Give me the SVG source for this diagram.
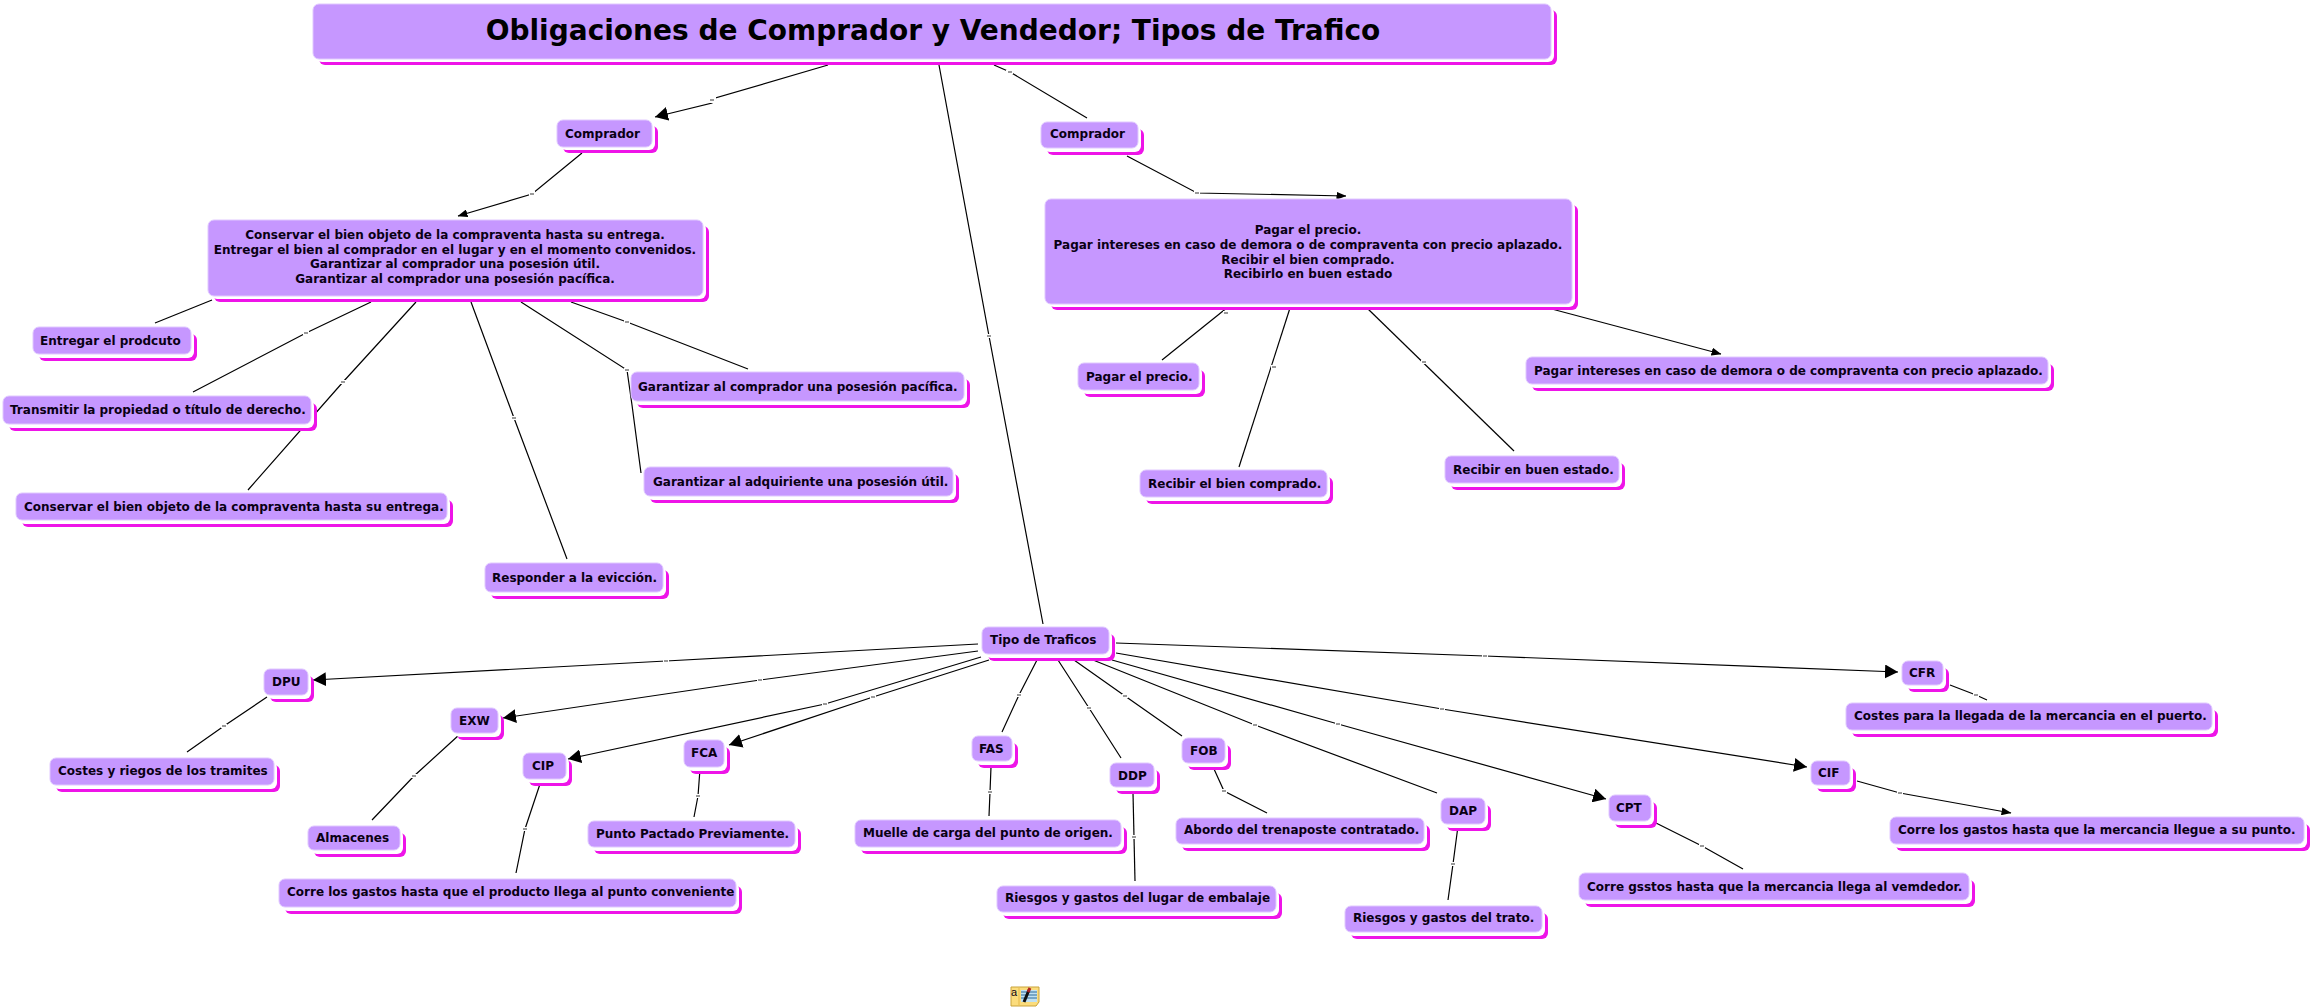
<svg xmlns="http://www.w3.org/2000/svg" width="2312" height="1008" viewBox="0 0 2312 1008">
<style>
text{font-family:"DejaVu Sans","Liberation Sans",sans-serif;font-weight:bold;font-size:12px;fill:#0a0014}
.m{text-anchor:middle}
.t{font-size:28px;fill:#000}
.s{fill:#ee14e8}
.w{fill:#fff}
.b{fill:#c697ff;stroke:#e0c8ff;stroke-width:1}
polyline{fill:none;stroke:#000;stroke-width:1.2}
.a{marker-end:url(#big)}
.c{marker-end:url(#small)}
.d{fill:#999}
</style>
<defs>
<marker id="big" markerUnits="userSpaceOnUse" markerWidth="14" markerHeight="14" refX="13" refY="7" orient="auto"><path d="M0,0L13,7L0,14z" fill="#000"/></marker>
<marker id="small" markerUnits="userSpaceOnUse" markerWidth="10" markerHeight="8" refX="9.5" refY="4" orient="auto"><path d="M0,0L10,4L0,8z" fill="#000"/></marker>
</defs>
<rect width="2312" height="1008" fill="#fff"/>
<g id="connectors">
<polyline class="a" points="828,65 712,99 712,103 655,117"/>
<polyline class="c" points="582,153 532,194 458,216"/>
<polyline points="994,65 1010,72 1087,118"/>
<polyline points="939,65 989,336 1043,624"/>
<polyline class="c" points="1127,156 1197,193 1346,196"/>
<polyline points="1228,307 1162,360"/>
<polyline points="1290,308 1239,467"/>
<polyline points="1367,308 1514,451"/>
<polyline class="c" points="1548,308 1721,354"/>
<polyline points="212,300 155,323"/>
<polyline points="371,302 306,333 193,392"/>
<polyline points="416,302 343,382 248,490"/>
<polyline points="471,302 514,418 567,559"/>
<polyline points="521,302 627,370 632,405 641,473"/>
<polyline points="571,302 627,322 748,369"/>
<polyline points="1037,660 1019,695 1002,732"/>
<polyline points="991,767 990,792 989,816"/>
<polyline points="1058,660 1089,708 1121,758"/>
<polyline points="1133,793 1134,837 1135,881"/>
<polyline points="1074,660 1125,696 1182,736"/>
<polyline points="1214,769 1224,791 1267,813"/>
<polyline points="1093,660 1255,725 1437,793"/>
<polyline points="1458,826 1453,864 1448,900"/>
<polyline class="a" points="1112,660 1338,724 1606,799"/>
<polyline points="1654,822 1702,846 1743,869"/>
<polyline class="a" points="1116,653 1442,709 1807,767"/>
<polyline class="c" points="1857,781 1900,793 2011,813"/>
<polyline class="a" points="1116,643 1485,656 1898,672"/>
<polyline points="1950,685 1976,695 1987,700"/>
<polyline class="a" points="978,644 666,661 313,680"/>
<polyline class="a" points="978,651 760,680 503,718"/>
<polyline class="a" points="981,657 825,704 568,759"/>
<polyline class="a" points="989,660 873,697 729,745"/>
<polyline points="267,697 224,726 187,752"/>
<polyline points="459,735 414,776 372,820"/>
<polyline points="541,781 525,829 516,873"/>
<polyline points="700,769 698,796 694,817"/>
<g fill="#fff">
<rect x="708" y="97" width="8" height="6"/><rect x="529" y="191" width="6" height="5"/><rect x="1006" y="70" width="7" height="4"/><rect x="986" y="334" width="6" height="4"/><rect x="1194" y="190" width="6" height="5"/><rect x="1223" y="311" width="6" height="4"/><rect x="1271" y="365" width="6" height="4"/><rect x="1421" y="360" width="6" height="4"/><rect x="303" y="331" width="6" height="4"/><rect x="340" y="380" width="6" height="4"/><rect x="511" y="416" width="6" height="4"/><rect x="624" y="368" width="6" height="4"/><rect x="624" y="320" width="6" height="4"/><rect x="1016" y="693" width="6" height="4"/><rect x="987" y="790" width="6" height="4"/><rect x="1086" y="706" width="6" height="4"/><rect x="1131" y="835" width="6" height="4"/><rect x="1122" y="694" width="6" height="4"/><rect x="1221" y="789" width="6" height="4"/><rect x="1252" y="723" width="6" height="4"/><rect x="1450" y="862" width="6" height="4"/><rect x="1335" y="722" width="6" height="4"/><rect x="1699" y="844" width="6" height="4"/><rect x="1439" y="707" width="6" height="4"/><rect x="1897" y="791" width="6" height="4"/><rect x="1482" y="654" width="6" height="4"/><rect x="1973" y="693" width="6" height="4"/><rect x="663" y="659" width="6" height="4"/><rect x="757" y="678" width="6" height="4"/><rect x="822" y="702" width="6" height="4"/><rect x="870" y="695" width="6" height="4"/><rect x="221" y="724" width="6" height="4"/><rect x="411" y="774" width="6" height="4"/><rect x="522" y="827" width="6" height="4"/><rect x="695" y="794" width="6" height="4"/>
</g>
<g class="d">
<rect x="710" y="99" width="4" height="2"/><rect x="530" y="193" width="4" height="2"/><rect x="1008" y="71" width="4" height="2"/><rect x="987" y="335" width="4" height="2"/><rect x="1195" y="192" width="4" height="2"/><rect x="1224" y="312" width="4" height="2"/><rect x="1272" y="366" width="4" height="2"/><rect x="1422" y="361" width="4" height="2"/><rect x="304" y="332" width="4" height="2"/><rect x="341" y="381" width="4" height="2"/><rect x="512" y="417" width="4" height="2"/><rect x="625" y="369" width="4" height="2"/><rect x="625" y="321" width="4" height="2"/><rect x="1017" y="694" width="4" height="2"/><rect x="988" y="791" width="4" height="2"/><rect x="1087" y="707" width="4" height="2"/><rect x="1132" y="836" width="4" height="2"/><rect x="1123" y="695" width="4" height="2"/><rect x="1222" y="790" width="4" height="2"/><rect x="1253" y="724" width="4" height="2"/><rect x="1451" y="863" width="4" height="2"/><rect x="1336" y="723" width="4" height="2"/><rect x="1700" y="845" width="4" height="2"/><rect x="1440" y="708" width="4" height="2"/><rect x="1898" y="792" width="4" height="2"/><rect x="1483" y="655" width="4" height="2"/><rect x="1974" y="694" width="4" height="2"/><rect x="664" y="660" width="4" height="2"/><rect x="758" y="679" width="4" height="2"/><rect x="823" y="703" width="4" height="2"/><rect x="871" y="696" width="4" height="2"/><rect x="222" y="725" width="4" height="2"/><rect x="412" y="775" width="4" height="2"/><rect x="523" y="828" width="4" height="2"/><rect x="696" y="795" width="4" height="2"/>
</g>
</g>
<g id="n-title"><rect class="s" x="319" y="10" width="1238" height="55" rx="6"/><rect class="w" x="316" y="7" width="1238" height="55" rx="6"/><rect class="b" x="313" y="4" width="1238" height="55" rx="6"/><text class="t m" x="933" y="40">Obligaciones de Comprador y Vendedor; Tipos de Trafico</text></g>
<g id="n-comprador1"><rect class="s" x="563" y="126" width="95" height="27" rx="6"/><rect class="w" x="560" y="123" width="95" height="27" rx="6"/><rect class="b" x="557" y="120" width="95" height="27" rx="6"/><text x="565" y="138">Comprador</text></g>
<g id="n-comprador2"><rect class="s" x="1047" y="129" width="97" height="26" rx="6"/><rect class="w" x="1044" y="126" width="97" height="26" rx="6"/><rect class="b" x="1041" y="122" width="97" height="26" rx="6"/><text x="1050" y="138">Comprador</text></g>
<g id="n-conservar-box"><rect class="s" x="214" y="226" width="495" height="76" rx="6"/><rect class="w" x="211" y="223" width="495" height="76" rx="6"/><rect class="b" x="208" y="220" width="495" height="76" rx="6"/><text class="m" x="455" y="239">Conservar el bien objeto de la compraventa hasta su entrega.</text><text class="m" x="455" y="254">Entregar el bien al comprador en el lugar y en el momento convenidos.</text><text class="m" x="455" y="268">Garantizar al comprador una posesión útil.</text><text class="m" x="455" y="283">Garantizar al comprador una posesión pacífica.</text></g>
<g id="n-pagar-box"><rect class="s" x="1051" y="205" width="527" height="105" rx="6"/><rect class="w" x="1048" y="202" width="527" height="105" rx="6"/><rect class="b" x="1045" y="199" width="527" height="105" rx="6"/><text class="m" x="1308" y="234">Pagar el precio.</text><text class="m" x="1308" y="249">Pagar intereses en caso de demora o de compraventa con precio aplazado.</text><text class="m" x="1308" y="264">Recibir el bien comprado.</text><text class="m" x="1308" y="278">Recibirlo en buen estado</text></g>
<g id="n-entregar"><rect class="s" x="39" y="334" width="158" height="27" rx="6"/><rect class="w" x="36" y="331" width="158" height="27" rx="6"/><rect class="b" x="33" y="327" width="158" height="27" rx="6"/><text x="40" y="345">Entregar el prodcuto</text></g>
<g id="n-transmitir"><rect class="s" x="9" y="403" width="308" height="28" rx="6"/><rect class="w" x="6" y="400" width="308" height="28" rx="6"/><rect class="b" x="3" y="396" width="308" height="28" rx="6"/><text x="10" y="414">Transmitir la propiedad o título de derecho.</text></g>
<g id="n-conservar"><rect class="s" x="22" y="500" width="431" height="27" rx="6"/><rect class="w" x="19" y="497" width="431" height="27" rx="6"/><rect class="b" x="16" y="493" width="431" height="27" rx="6"/><text x="24" y="511">Conservar el bien objeto de la compraventa hasta su entrega.</text></g>
<g id="n-responder"><rect class="s" x="491" y="570" width="178" height="29" rx="6"/><rect class="w" x="488" y="567" width="178" height="29" rx="6"/><rect class="b" x="485" y="563" width="178" height="29" rx="6"/><text x="492" y="582">Responder a la evicción.</text></g>
<g id="n-pacifica"><rect class="s" x="637" y="379" width="333" height="29" rx="6"/><rect class="w" x="634" y="376" width="333" height="29" rx="6"/><rect class="b" x="631" y="372" width="333" height="29" rx="6"/><text x="638" y="391">Garantizar al comprador una posesión pacífica.</text></g>
<g id="n-util"><rect class="s" x="650" y="474" width="309" height="29" rx="6"/><rect class="w" x="647" y="471" width="309" height="29" rx="6"/><rect class="b" x="644" y="467" width="309" height="29" rx="6"/><text x="653" y="486">Garantizar al adquiriente una posesión útil.</text></g>
<g id="n-pagar"><rect class="s" x="1084" y="370" width="121" height="27" rx="6"/><rect class="w" x="1081" y="367" width="121" height="27" rx="6"/><rect class="b" x="1078" y="363" width="121" height="27" rx="6"/><text x="1086" y="381">Pagar el precio.</text></g>
<g id="n-recibir1"><rect class="s" x="1146" y="477" width="187" height="27" rx="6"/><rect class="w" x="1143" y="474" width="187" height="27" rx="6"/><rect class="b" x="1140" y="470" width="187" height="27" rx="6"/><text x="1148" y="488">Recibir el bien comprado.</text></g>
<g id="n-recibir2"><rect class="s" x="1451" y="463" width="174" height="27" rx="6"/><rect class="w" x="1448" y="460" width="174" height="27" rx="6"/><rect class="b" x="1445" y="456" width="174" height="27" rx="6"/><text x="1453" y="474">Recibir en buen estado.</text></g>
<g id="n-intereses"><rect class="s" x="1532" y="364" width="522" height="27" rx="6"/><rect class="w" x="1529" y="361" width="522" height="27" rx="6"/><rect class="b" x="1526" y="357" width="522" height="27" rx="6"/><text x="1534" y="375">Pagar intereses en caso de demora o de compraventa con precio aplazado.</text></g>
<g id="n-tipo"><rect class="s" x="988" y="634" width="127" height="27" rx="6"/><rect class="w" x="985" y="631" width="127" height="27" rx="6"/><rect class="b" x="982" y="627" width="127" height="27" rx="6"/><text x="990" y="644">Tipo de Traficos</text></g>
<g id="n-fas"><rect class="s" x="978" y="743" width="40" height="25" rx="6"/><rect class="w" x="975" y="740" width="40" height="25" rx="6"/><rect class="b" x="972" y="736" width="40" height="25" rx="6"/><text x="979" y="753">FAS</text></g>
<g id="n-ddp"><rect class="s" x="1116" y="770" width="44" height="24" rx="6"/><rect class="w" x="1113" y="767" width="44" height="24" rx="6"/><rect class="b" x="1110" y="763" width="44" height="24" rx="6"/><text x="1118" y="780">DDP</text></g>
<g id="n-fob"><rect class="s" x="1188" y="745" width="43" height="25" rx="6"/><rect class="w" x="1185" y="742" width="43" height="25" rx="6"/><rect class="b" x="1182" y="738" width="43" height="25" rx="6"/><text x="1190" y="755">FOB</text></g>
<g id="n-muelle"><rect class="s" x="861" y="827" width="266" height="27" rx="6"/><rect class="w" x="858" y="824" width="266" height="27" rx="6"/><rect class="b" x="855" y="820" width="266" height="27" rx="6"/><text x="863" y="837">Muelle de carga del punto de origen.</text></g>
<g id="n-riesgos1"><rect class="s" x="1003" y="893" width="279" height="26" rx="6"/><rect class="w" x="1000" y="890" width="279" height="26" rx="6"/><rect class="b" x="997" y="886" width="279" height="26" rx="6"/><text x="1005" y="902">Riesgos y gastos del lugar de embalaje</text></g>
<g id="n-abordo"><rect class="s" x="1182" y="825" width="248" height="26" rx="6"/><rect class="w" x="1179" y="822" width="248" height="26" rx="6"/><rect class="b" x="1176" y="818" width="248" height="26" rx="6"/><text x="1184" y="834">Abordo del trenaposte contratado.</text></g>
<g id="n-riesgos2"><rect class="s" x="1351" y="913" width="197" height="26" rx="6"/><rect class="w" x="1348" y="910" width="197" height="26" rx="6"/><rect class="b" x="1345" y="906" width="197" height="26" rx="6"/><text x="1353" y="922">Riesgos y gastos del trato.</text></g>
<g id="n-dap"><rect class="s" x="1447" y="805" width="44" height="26" rx="6"/><rect class="w" x="1444" y="802" width="44" height="26" rx="6"/><rect class="b" x="1441" y="798" width="44" height="26" rx="6"/><text x="1449" y="815">DAP</text></g>
<g id="n-cpt"><rect class="s" x="1615" y="802" width="42" height="26" rx="6"/><rect class="w" x="1612" y="799" width="42" height="26" rx="6"/><rect class="b" x="1609" y="795" width="42" height="26" rx="6"/><text x="1616" y="812">CPT</text></g>
<g id="n-vemdedor"><rect class="s" x="1585" y="880" width="390" height="27" rx="6"/><rect class="w" x="1582" y="877" width="390" height="27" rx="6"/><rect class="b" x="1579" y="873" width="390" height="27" rx="6"/><text x="1587" y="891">Corre gsstos hasta que la mercancia llega al vemdedor.</text></g>
<g id="n-cfr"><rect class="s" x="1908" y="668" width="41" height="24" rx="6"/><rect class="w" x="1905" y="665" width="41" height="24" rx="6"/><rect class="b" x="1902" y="661" width="41" height="24" rx="6"/><text x="1909" y="677">CFR</text></g>
<g id="n-llegada"><rect class="s" x="1852" y="710" width="366" height="27" rx="6"/><rect class="w" x="1849" y="707" width="366" height="27" rx="6"/><rect class="b" x="1846" y="703" width="366" height="27" rx="6"/><text x="1854" y="720">Costes para la llegada de la mercancia en el puerto.</text></g>
<g id="n-cif"><rect class="s" x="1817" y="768" width="39" height="24" rx="6"/><rect class="w" x="1814" y="765" width="39" height="24" rx="6"/><rect class="b" x="1811" y="761" width="39" height="24" rx="6"/><text x="1818" y="777">CIF</text></g>
<g id="n-punto"><rect class="s" x="1896" y="824" width="414" height="27" rx="6"/><rect class="w" x="1893" y="821" width="414" height="27" rx="6"/><rect class="b" x="1890" y="817" width="414" height="27" rx="6"/><text x="1898" y="834">Corre los gastos hasta que la mercancia llegue a su punto.</text></g>
<g id="n-dpu"><rect class="s" x="270" y="676" width="44" height="26" rx="6"/><rect class="w" x="267" y="673" width="44" height="26" rx="6"/><rect class="b" x="264" y="669" width="44" height="26" rx="6"/><text x="272" y="686">DPU</text></g>
<g id="n-exw"><rect class="s" x="457" y="715" width="47" height="25" rx="6"/><rect class="w" x="454" y="712" width="47" height="25" rx="6"/><rect class="b" x="451" y="708" width="47" height="25" rx="6"/><text x="459" y="725">EXW</text></g>
<g id="n-cip"><rect class="s" x="529" y="760" width="43" height="26" rx="6"/><rect class="w" x="526" y="757" width="43" height="26" rx="6"/><rect class="b" x="523" y="753" width="43" height="26" rx="6"/><text x="532" y="770">CIP</text></g>
<g id="n-fca"><rect class="s" x="690" y="747" width="40" height="27" rx="6"/><rect class="w" x="687" y="744" width="40" height="27" rx="6"/><rect class="b" x="684" y="740" width="40" height="27" rx="6"/><text x="691" y="757">FCA</text></g>
<g id="n-tramites"><rect class="s" x="56" y="765" width="224" height="27" rx="6"/><rect class="w" x="53" y="762" width="224" height="27" rx="6"/><rect class="b" x="50" y="758" width="224" height="27" rx="6"/><text x="58" y="775">Costes y riegos de los tramites</text></g>
<g id="n-almacenes"><rect class="s" x="314" y="833" width="92" height="24" rx="6"/><rect class="w" x="311" y="830" width="92" height="24" rx="6"/><rect class="b" x="308" y="826" width="92" height="24" rx="6"/><text x="316" y="842">Almacenes</text></g>
<g id="n-producto"><rect class="s" x="285" y="886" width="457" height="28" rx="6"/><rect class="w" x="282" y="883" width="457" height="28" rx="6"/><rect class="b" x="279" y="879" width="457" height="28" rx="6"/><text x="287" y="896">Corre los gastos hasta que el producto llega al punto conveniente</text></g>
<g id="n-pactado"><rect class="s" x="594" y="828" width="207" height="26" rx="6"/><rect class="w" x="591" y="825" width="207" height="26" rx="6"/><rect class="b" x="588" y="821" width="207" height="26" rx="6"/><text x="596" y="838">Punto Pactado Previamente.</text></g>
<g id="icon">
<path d="M1011,987H1039V1002L1036,1006H1011z" fill="#fbdc7c" stroke="#c9a33a"/>
<path d="M1019,988V1005" stroke="#e5b94a"/>
<rect x="1021" y="990" width="16" height="12" fill="#bfe0f2"/>
<path d="M1021,992H1037M1021,995H1037M1021,998H1037" stroke="#2c6a9a"/>
<path d="M1024,1002L1029,990" stroke="#111" stroke-width="3"/>
<path d="M1028,992L1030,988" stroke="#b02020" stroke-width="3"/>
<text x="1011" y="996" style="font-family:'Liberation Sans',sans-serif;font-weight:normal;font-size:11px">a</text>
</g>
</svg>
